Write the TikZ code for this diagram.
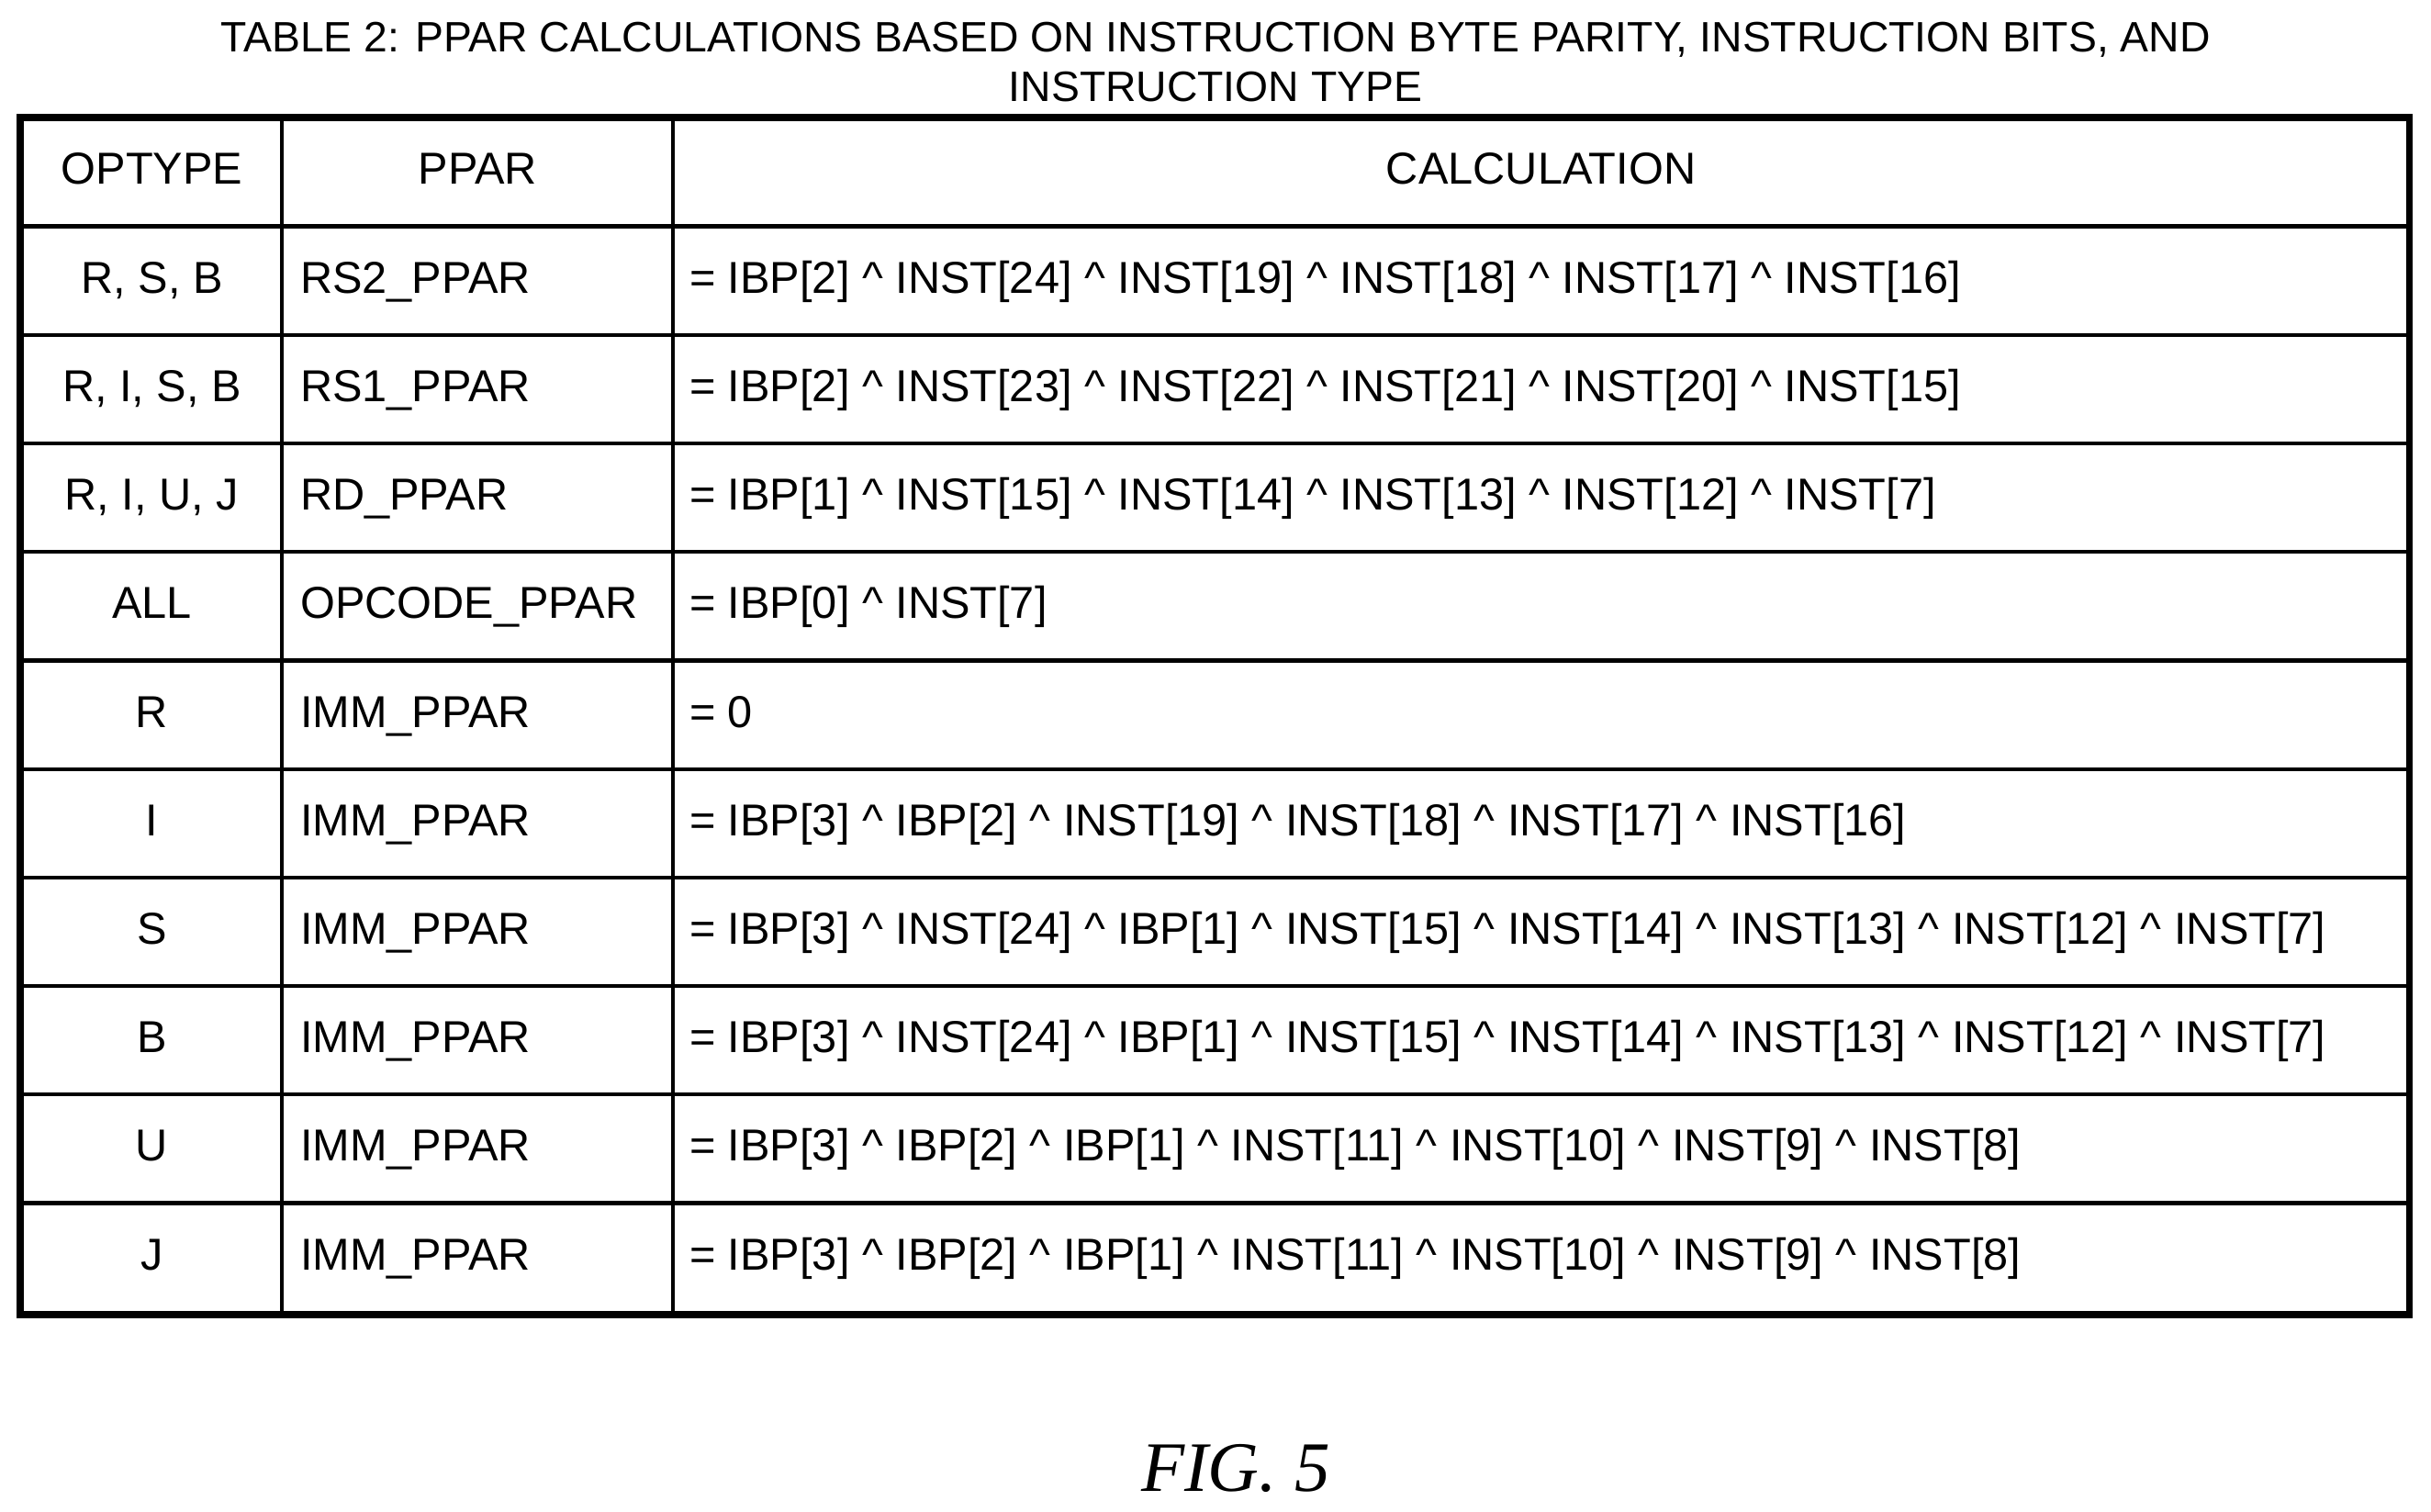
\documentclass[tikz,border=0pt]{standalone}
\usepackage{fontspec}
\setmainfont{Liberation Sans}
\newfontfamily\figfont{Liberation Serif}
\newcommand{\xr}{ \textasciicircum{} }
\begin{document}
\begin{tikzpicture}[x=0.01cm,y=-0.01cm]
\tikzstyle{celda}=[font=\fontsize{8.2}{9.8}\selectfont,inner sep=0pt,anchor=base]
\useasboundingbox (0,0) rectangle (1568,975);

\node[font=\fontsize{7.8}{9.2}\selectfont,align=center] (titulo) at (784,40)
  {TABLE 2: PPAR CALCULATIONS BASED ON INSTRUCTION BYTE PARITY, INSTRUCTION BITS, AND\\ INSTRUCTION TYPE};

% lineas de la tabla
\foreach \y in {146,216,...,776}
  \draw[line width=0.7pt] (13,\y) -- (1554,\y);
\draw[line width=0.7pt] (182,76) -- (182,848);
\draw[line width=0.7pt] (434,76) -- (434,848);
\draw[line width=1.3pt] (13,76) rectangle (1554,848);

% encabezado
\node[celda] (h1) at (98,119) {OPTYPE};
\node[celda] (h2) at (308,119) {PPAR};
\node[celda] (h3) at (994,119) {CALCULATION};

\foreach \op/\pp/\calc [count=\i] in {
  {R, S, B}/{RS2\_PPAR}/{= IBP[2]\xr INST[24]\xr INST[19]\xr INST[18]\xr INST[17]\xr INST[16]},
  {R, I, S, B}/{RS1\_PPAR}/{= IBP[2]\xr INST[23]\xr INST[22]\xr INST[21]\xr INST[20]\xr INST[15]},
  {R, I, U, J}/{RD\_PPAR}/{= IBP[1]\xr INST[15]\xr INST[14]\xr INST[13]\xr INST[12]\xr INST[7]},
  {ALL}/{OPCODE\_PPAR}/{= IBP[0]\xr INST[7]},
  {R}/{IMM\_PPAR}/{= 0},
  {I}/{IMM\_PPAR}/{= IBP[3]\xr IBP[2]\xr INST[19]\xr INST[18]\xr INST[17]\xr INST[16]},
  {S}/{IMM\_PPAR}/{= IBP[3]\xr INST[24]\xr IBP[1]\xr INST[15]\xr INST[14]\xr INST[13]\xr INST[12]\xr INST[7]},
  {B}/{IMM\_PPAR}/{= IBP[3]\xr INST[24]\xr IBP[1]\xr INST[15]\xr INST[14]\xr INST[13]\xr INST[12]\xr INST[7]},
  {U}/{IMM\_PPAR}/{= IBP[3]\xr IBP[2]\xr IBP[1]\xr INST[11]\xr INST[10]\xr INST[9]\xr INST[8]},
  {J}/{IMM\_PPAR}/{= IBP[3]\xr IBP[2]\xr IBP[1]\xr INST[11]\xr INST[10]\xr INST[9]\xr INST[8]}}
{
  \node[celda] (op\i) at (98,119+70*\i) {\op};
  \node[celda,anchor=base west] (pp\i) at (193,119+70*\i) {\pp};
  \node[celda,anchor=base west] (calc\i) at (444,119+70*\i) {\calc};
}

\node[font=\figfont\itshape\fontsize{13}{15}\selectfont] (fig) at (797,947) {FIG. 5};
\end{tikzpicture}
\end{document}
